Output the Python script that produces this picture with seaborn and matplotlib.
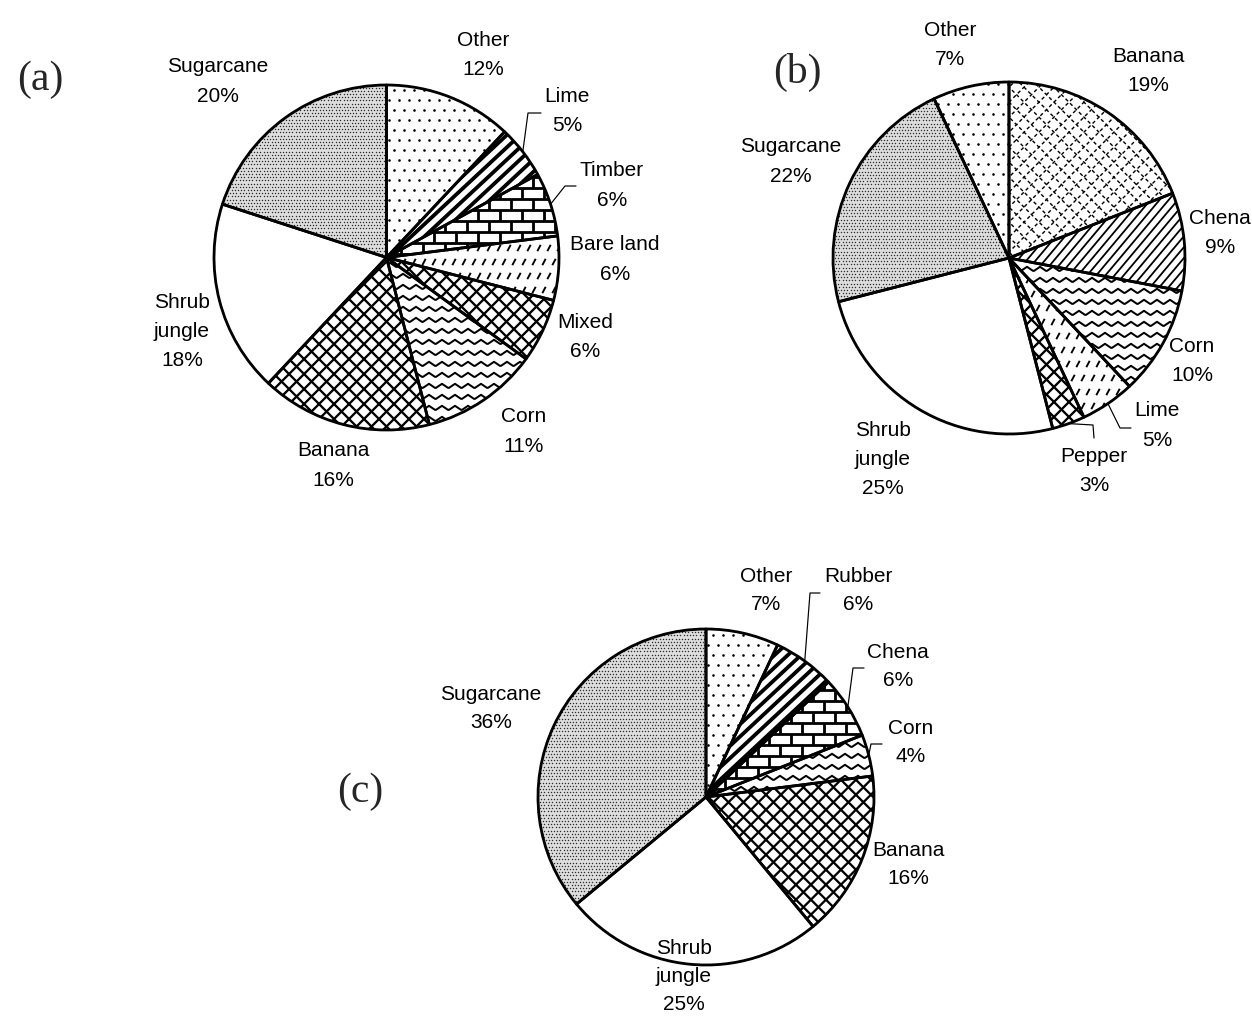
import numpy as np
import matplotlib
matplotlib.use("Agg")
import matplotlib.pyplot as plt
import seaborn as sns
from matplotlib.collections import LineCollection
from matplotlib.patches import Wedge

# ---- land-use shares (%), listed clockwise from 12 o'clock ----
a_labels = ["Other", "Lime", "Timber", "Bare land", "Mixed", "Corn", "Banana",
            "Shrub\njungle", "Sugarcane"]
a_values = [12, 5, 6, 6, 6, 11, 16, 18, 20]

b_labels = ["Banana", "Chena", "Corn", "Lime", "Pepper", "Shrub\njungle",
            "Sugarcane", "Other"]
b_values = [19, 9, 10, 5, 3, 25, 22, 7]

c_labels = ["Other", "Rubber", "Chena", "Corn", "Banana", "Shrub\njungle",
            "Sugarcane"]
c_values = [7, 6, 6, 4, 16, 25, 36]

# ---- fill textures per slice ----
a_fills = ["dots", "bold_stripes", "bricks", "dashes", "cross", "waves",
           "cross", "plain", "stipple"]
b_fills = ["dashed_cross", "stripes", "waves", "dashes", "cross", "plain",
           "stipple", "dots"]
c_fills = ["dots", "bold_stripes", "bricks", "waves", "cross", "plain",
           "stipple"]

# ---- layout (pixel coordinates, y measured from the top) ----
W, H = 1252, 1017
PX = 0.72  # points per pixel at 100 dpi

panels = [
    dict(tag="(a)", tag_xy=(40, 80), center=(386.5, 257.5), radius=172.5,
         labels=a_labels, values=a_values, fills=a_fills, line_step=29.5,
         text_xy=[(483, 40), (567, 96), (612, 171), (615, 245), (585, 322),
                  (524, 417), (333, 451), (182, 302), (218, 67)],
         leaders={1: [(528, 113), (541, 113)], 2: [(565, 186), (576, 186)]}),
    dict(tag="(b)", tag_xy=(797, 72), center=(1009, 258), radius=176,
         labels=b_labels, values=b_values, fills=b_fills, line_step=29.5,
         text_xy=[(1148, 56), (1220, 218), (1192, 346), (1157, 411),
                  (1094, 456), (883, 430), (791, 147), (950, 30)],
         leaders={3: [(1120, 428), (1131, 428)], 4: [(1093, 425), (1094, 438)]}),
    dict(tag="(c)", tag_xy=(360, 792), center=(706, 797), radius=168,
         labels=c_labels, values=c_values, fills=c_fills, line_step=28,
         text_xy=[(766, 576), (858, 577), (898, 653), (911, 728), (908, 851),
                  (684, 948), (491, 694)],
         leaders={1: [(810, 593), (820, 593)], 2: [(853, 668), (864, 668)],
                  3: [(871, 744), (882, 744)]}),
]

sns.set_theme(style="white")
plt.rcParams["font.family"] = ["Liberation Sans", "DejaVu Sans"]


def line_family(cx, cy, R, angle, spacing):
    th = np.deg2rad(angle)
    d = np.array([np.cos(th), np.sin(th)])
    n = np.array([-np.sin(th), np.cos(th)])
    c = np.array([cx, cy])
    segs = []
    for k in np.arange(-R - spacing, R + spacing, spacing):
        p = c + k * n
        segs.append([p - 1.2 * R * d, p + 1.2 * R * d])
    return segs


def dot_grid(cx, cy, R, step, stagger=False):
    xs, ys = [], []
    for i, y in enumerate(np.arange(cy - R, cy + R + step, step)):
        off = step / 2 if (stagger and i % 2) else 0.0
        row = np.arange(cx - R, cx + R + step, step) + off
        xs.append(row)
        ys.append(np.full_like(row, y))
    return np.concatenate(xs), np.concatenate(ys)


def add_texture(ax, wedge, kind, cx, cy, R):
    arts = []
    if kind == "dots":
        xs, ys = dot_grid(cx, cy, R, 10, stagger=True)
        arts.append(ax.scatter(xs, ys, s=3.5, c="black", linewidths=0))
    elif kind == "stipple":
        xs, ys = dot_grid(cx, cy, R, 3.2, stagger=True)
        arts.append(ax.scatter(xs, ys, s=1.1, c="#2e2e2e", linewidths=0))
    elif kind == "bold_stripes":
        arts.append(LineCollection(line_family(cx, cy, R, 43, 9),
                                   colors="black", linewidths=3.8 * PX))
    elif kind == "stripes":
        arts.append(LineCollection(line_family(cx, cy, R, 50, 7),
                                   colors="black", linewidths=1.8 * PX))
    elif kind == "cross":
        segs = line_family(cx, cy, R, 45, 10.6) + line_family(cx, cy, R, -45, 10.6)
        arts.append(LineCollection(segs, colors="black", linewidths=2.3 * PX))
    elif kind == "dashed_cross":
        segs = line_family(cx, cy, R, 45, 10.6) + line_family(cx, cy, R, -45, 10.6)
        arts.append(LineCollection(segs, colors="black", linewidths=1.4 * PX,
                                   linestyles=[(0, (2.5, 2.0))]))
    elif kind == "waves":
        segs = []
        x = np.arange(cx - R - 10, cx + R + 10, 1.0)
        phase = (x / 13.0) % 1.0
        tri = 4 * np.abs(phase - 0.5) - 1  # triangle wave in [-1, 1]
        for y in np.arange(cy - R - 11, cy + R + 11, 11):
            segs.append(np.column_stack([x, y + 2.2 * tri]))
        arts.append(LineCollection(segs, colors="black", linewidths=2.0 * PX))
    elif kind == "bricks":
        h, w = 11.0, 22.0
        segs = []
        for i, y in enumerate(np.arange(cy - R - h, cy + R + h, h)):
            segs.append([(cx - R - w, y), (cx + R + w, y)])
            off = w / 2 if i % 2 else 0.0
            for xv in np.arange(cx - R - w, cx + R + w, w) + off:
                segs.append([(xv, y), (xv, y + h)])
        arts.append(LineCollection(segs, colors="black", linewidths=2.8 * PX))
    elif kind == "dashes":
        segs = []
        th = np.deg2rad(62)
        dx, dy = 3.6 * np.cos(th), 3.6 * np.sin(th)
        for i, y in enumerate(np.arange(cy - R, cy + R + 14, 14)):
            off = 5.0 if i % 2 else 0.0
            for xv in np.arange(cx - R, cx + R + 10, 10) + off:
                segs.append([(xv - dx, y - dy), (xv + dx, y + dy)])
        arts.append(LineCollection(segs, colors="black", linewidths=1.9 * PX))
    for art in arts:
        if isinstance(art, LineCollection):
            ax.add_collection(art)
        art.set_zorder(2)
        art.set_clip_path(wedge)


fig = plt.figure(figsize=(W / 100, H / 100), dpi=100)
ax = fig.add_axes([0, 0, 1, 1])

for p in panels:
    cx, cy = p["center"][0], H - p["center"][1]
    R = p["radius"]
    faces = ["#dedede" if f == "stipple" else "white" for f in p["fills"]]
    wedges, _ = ax.pie(p["values"], startangle=90, counterclock=False,
                       center=(cx, cy), radius=R, colors=faces,
                       wedgeprops=dict(edgecolor="none", linewidth=0))
    for w, kind in zip(wedges, p["fills"]):
        w.set_zorder(1)
        add_texture(ax, w, kind, cx, cy, R)
        ax.add_patch(Wedge((cx, cy), R, w.theta1, w.theta2, fill=False,
                           edgecolor="black", linewidth=2.8 * PX, zorder=4,
                           joinstyle="round"))

    # slice labels: name lines followed by the percentage
    for i, (lab, val, (tx, ty)) in enumerate(zip(p["labels"], p["values"],
                                                 p["text_xy"])):
        lines = lab.split("\n") + [f"{val}%"]
        for j, line in enumerate(lines):
            ax.text(tx, H - (ty + j * p["line_step"]), line, ha="center",
                    va="center", fontsize=15, color="black", zorder=5)

    # leader lines from the slice edge to its label
    for i, pts in p["leaders"].items():
        w = wedges[i]
        mid = np.deg2rad((w.theta1 + w.theta2) / 2)
        xs = [cx + R * np.cos(mid)] + [q[0] for q in pts]
        ys = [cy + R * np.sin(mid)] + [H - q[1] for q in pts]
        ax.plot(xs, ys, color="black", linewidth=1.2 * PX, zorder=5)

    ax.text(p["tag_xy"][0], H - p["tag_xy"][1], p["tag"], ha="center",
            va="center", fontsize=30, family="Liberation Serif", zorder=5)

ax.set_xlim(0, W)
ax.set_ylim(0, H)
ax.set_aspect("equal")
ax.axis("off")
fig.savefig("out.png", dpi=100, facecolor="white")
